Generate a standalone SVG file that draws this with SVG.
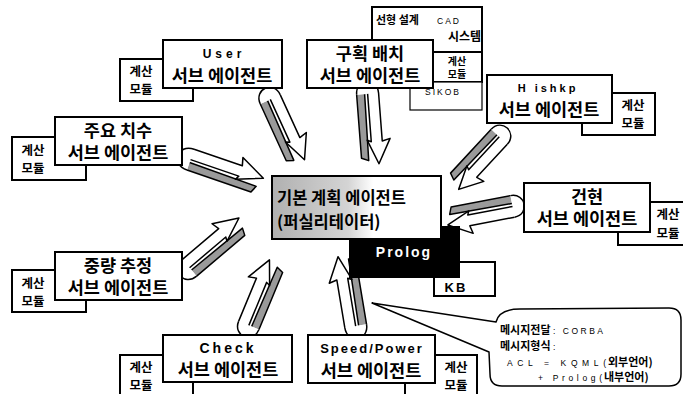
<svg xmlns="http://www.w3.org/2000/svg" width="683" height="394" viewBox="0 0 683 394">
<style>
.box{fill:#fff;stroke:#000;stroke-width:2}
.ko{font-family:"Noto Sans CJK KR",sans-serif;font-weight:bold;fill:#000}
.t1{font-size:17.5px;text-anchor:middle}
.t2{font-size:12.5px;text-anchor:middle}
.lat{font-family:"Liberation Sans","Noto Sans CJK KR",sans-serif;font-weight:bold;fill:#000;text-anchor:middle}
.sm{font-family:"Liberation Sans","Noto Sans CJK KR",sans-serif;font-size:8.5px;fill:#000}
.band{fill:#9a9a9a;stroke:#000;stroke-width:1.5;stroke-linejoin:round}
.fold{fill:#fff;stroke:#000;stroke-width:1.5}
.arr{fill:#fff;stroke:#000;stroke-width:1.5;stroke-linejoin:round}
</style>
<defs>
<linearGradient id="cg" x1="0" y1="0" x2="1" y2="0">
<stop offset="0" stop-color="#b0b0b0"/><stop offset="0.45" stop-color="#d4d4d4"/><stop offset="0.6" stop-color="#fff"/>
</linearGradient>
<g id="rib">
<path class="band" d="M8,4 L76,5 L73,12 L8,12"/>
<path class="fold" d="M8,12 C-9,12 -9,-10 8,-10"/>
<path class="arr" d="M8,-10 L57,-10 L55,-18 L80,-5 L55,5 L57,1 L8,1"/>
</g>
</defs>
<rect width="683" height="394" fill="#fff"/>

<g id="connectors">
<use href="#rib" transform="translate(268,92) rotate(65.4) scale(0.96,1)"/>
<use href="#rib" transform="translate(368,86) rotate(85.6) scale(0.98,1)"/>
<use href="#rib" transform="translate(505,132) rotate(132.8) scale(0.92,1)"/>
<use href="#rib" transform="translate(520,206) rotate(169.1) scale(0.93,1)"/>
<use href="#rib" transform="translate(183,156) rotate(18.9) scale(1.04,1)"/>
<use href="#rib" transform="translate(183,272) rotate(-40.3) scale(0.97,1)"/>
<use href="#rib" transform="translate(245,332) rotate(-67.5) scale(0.95,1)"/>
<use href="#rib" transform="translate(356,334) rotate(-99.5) scale(0.99,1)"/>
</g>

<g id="kb">
<rect class="box" x="434" y="262" width="61" height="34"/>
<text class="lat" x="456" y="292" font-size="13" letter-spacing="2">KB</text>
</g>
<g id="prolog">
<rect x="349" y="226" width="111" height="52" fill="#000"/>
<text class="lat" x="404" y="257" font-size="14" letter-spacing="2" style="fill:#fff">Prolog</text>
</g>
<g id="center">
<rect class="box" x="272" y="176" width="169" height="63" style="fill:url(#cg)"/>
<text class="ko" x="277" y="204" font-size="16.5">기본 계획 에이전트</text>
<text class="ko" x="277" y="228" font-size="16.5">(퍼실리테이터)</text>
</g>

<g id="user">
<rect class="box" x="120" y="59" width="73" height="42"/>
<text class="ko t2" x="141" y="76">계산</text>
<text class="ko t2" x="141" y="94">모듈</text>
<rect class="box" x="163" y="40" width="119" height="48"/>
<text class="lat" x="224" y="58" font-size="12" letter-spacing="4">User</text>
<text class="ko t1" x="222" y="82">서브 에이전트</text>
</g>

<g id="cad">
<rect class="box" x="372" y="7" width="110" height="45"/>
<text class="ko" x="376" y="24" font-size="11">선형 설계</text>
<text class="sm" x="437" y="24" letter-spacing="2">CAD</text>
<text class="ko" x="481" y="41" font-size="12" text-anchor="end">시스템</text>
<rect class="box" x="432" y="52" width="50" height="30"/>
<text class="ko" x="457" y="65" font-size="10" text-anchor="middle">계산</text>
<text class="ko" x="457" y="78" font-size="10" text-anchor="middle">모듈</text>
<rect x="410" y="82" width="72" height="28" fill="#fff" stroke="#000" stroke-width="1.2"/>
<text class="sm" x="425" y="95" letter-spacing="2">SIKOB</text>
</g>

<g id="gurak">
<rect class="box" x="307" y="40" width="126" height="48"/>
<text class="ko t1" x="370" y="60">구획 배치</text>
<text class="ko t1" x="370" y="82">서브 에이전트</text>
</g>

<g id="hull">
<rect class="box" x="582" y="93" width="73" height="42"/>
<text class="ko t2" x="633" y="110">계산</text>
<text class="ko t2" x="633" y="128">모듈</text>
<rect class="box" x="487" y="75" width="125" height="48"/>
<text class="lat" x="548" y="92" font-size="11" letter-spacing="3">H ishkp</text>
<text class="ko t1" x="549" y="116">서브 에이전트</text>
</g>

<g id="dim">
<rect class="box" x="12" y="137" width="74" height="43"/>
<text class="ko t2" x="33" y="155">계산</text>
<text class="ko t2" x="33" y="173">모듈</text>
<rect class="box" x="55" y="117" width="127" height="48"/>
<text class="ko t1" x="118" y="137">주요 치수</text>
<text class="ko t1" x="118" y="159">서브 에이전트</text>
</g>

<g id="freeboard">
<rect class="box" x="618" y="202" width="72" height="43"/>
<text class="ko t2" x="668" y="219">계산</text>
<text class="ko t2" x="668" y="238">모듈</text>
<rect class="box" x="524" y="183" width="126" height="49"/>
<text class="ko t1" x="587" y="203">건현</text>
<text class="ko t1" x="587" y="225">서브 에이전트</text>
</g>

<g id="weight">
<rect class="box" x="12" y="270" width="74" height="42"/>
<text class="ko t2" x="33" y="288">계산</text>
<text class="ko t2" x="33" y="306">모듈</text>
<rect class="box" x="55" y="252" width="127" height="48"/>
<text class="ko t1" x="118" y="272">중량 추정</text>
<text class="ko t1" x="118" y="294">서브 에이전트</text>
</g>

<g id="check">
<rect class="box" x="120" y="355" width="73" height="45"/>
<text class="ko t2" x="141" y="372">계산</text>
<text class="ko t2" x="141" y="390">모듈</text>
<rect class="box" x="163" y="335" width="129" height="47"/>
<text class="lat" x="228" y="353" font-size="14" letter-spacing="3">Check</text>
<text class="ko t1" x="228" y="376">서브 에이전트</text>
</g>

<g id="speed">
<rect class="box" x="405" y="355" width="72" height="45"/>
<text class="ko t2" x="456" y="372">계산</text>
<text class="ko t2" x="456" y="390">모듈</text>
<rect class="box" x="308" y="335" width="127" height="48"/>
<text class="lat" x="372" y="353" font-size="13" letter-spacing="2">Speed/Power</text>
<text class="ko t1" x="371" y="377">서브 에이전트</text>
</g>

<g id="callout">
<path d="M372,303 L496,322 Q499,309 520,309 L669,308 Q681,308 681,320 L681,374 Q681,386 669,386 L502,386 Q490,386 490,374 L489,352 Z" fill="#fff" stroke="#000" stroke-width="1.5" stroke-linejoin="round"/>
<text class="ko" x="500" y="334" font-size="11">메시지전달</text>
<text class="sm" x="553" y="334" textLength="50" lengthAdjust="spacing">: CORBA</text>
<text class="ko" x="500" y="350" font-size="11">메시지형식</text>
<text class="sm" x="553" y="350">:</text>
<text class="sm" x="507" y="366" textLength="99" lengthAdjust="spacing">ACL = KQML(</text>
<text class="ko" x="608" y="366" font-size="11">외부언어)</text>
<text class="sm" x="538" y="381" textLength="64" lengthAdjust="spacing">+  Prolog(</text>
<text class="ko" x="604" y="381" font-size="11">내부언어)</text>
</g>
</svg>
